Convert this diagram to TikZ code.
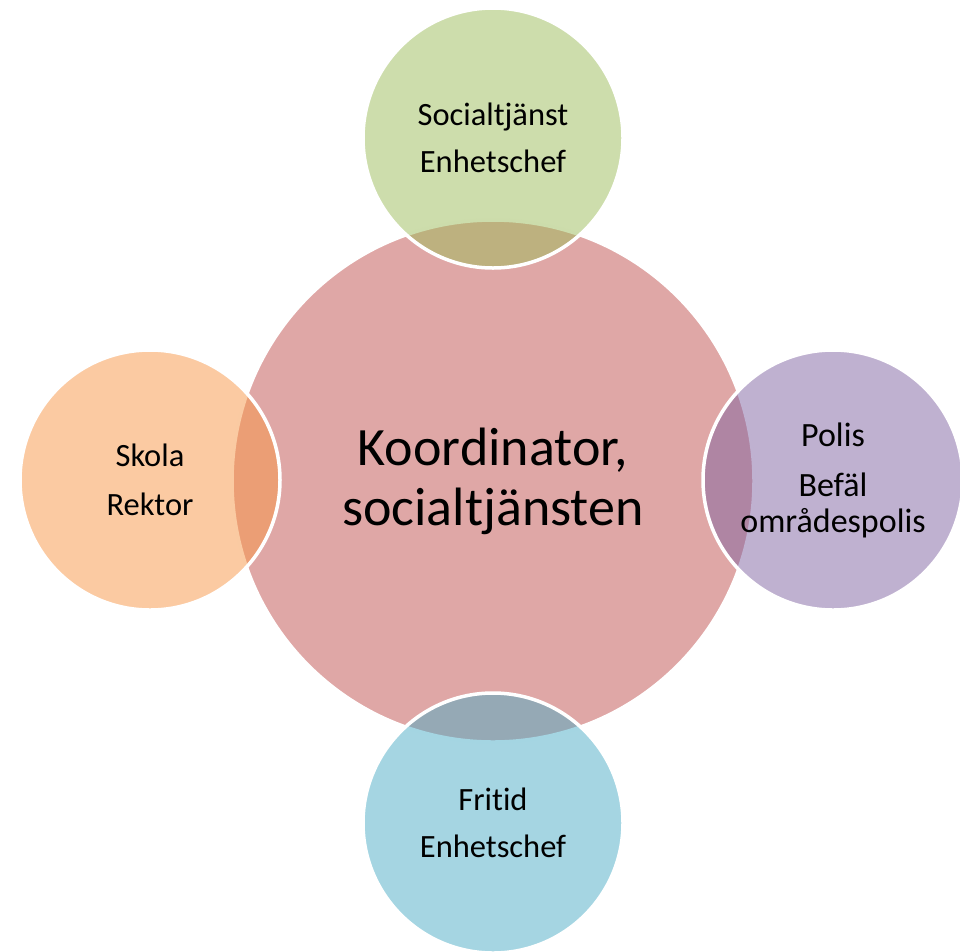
\documentclass[tikz,border=0pt]{standalone}
\usepackage{fontspec}
\setmainfont{Carlito}[Ligatures=NoCommon]
\definecolor{hubred}{HTML}{C0504D}
\definecolor{socgreen}{HTML}{9BBB59}
\definecolor{polpurple}{HTML}{8064A2}
\definecolor{friaqua}{HTML}{4BACC6}
\definecolor{skolorange}{HTML}{F79646}
\tikzset{
  ring/.style={circle,draw=white,line width=3.5pt,fill opacity=.5,
    text opacity=1,inner sep=0pt,align=center},
  hub/.style={ring,minimum size=522pt,fill=hubred,
    font=\fontsize{54}{60}\selectfont},
  sat/.style={ring,minimum size=260pt,font=\fontsize{32.5}{36}\selectfont}
}
\begin{document}
\begin{tikzpicture}[x=1pt,y=-1pt]
  \useasboundingbox (0,0) rectangle (960,951);
  % centre
  \node[hub] (koord) at (493,481) {Koordinator,\\socialtjänsten};
  % satellites
  \node[sat,fill=socgreen] (soc) at (493,138) {Socialtjänst\\[11pt]Enhetschef};
  \node[sat,fill=polpurple,font=\fontsize{34}{36}\selectfont] (polis) at (833,480)
    {Polis\\[14pt]Befäl\\områdespolis};
  \node[sat,fill=friaqua] (fritid) at (493,823) {Fritid\\[11pt]Enhetschef};
  \node[sat,fill=skolorange] (skola) at (150,480) {Skola\\[13pt]Rektor};
\end{tikzpicture}
\end{document}
